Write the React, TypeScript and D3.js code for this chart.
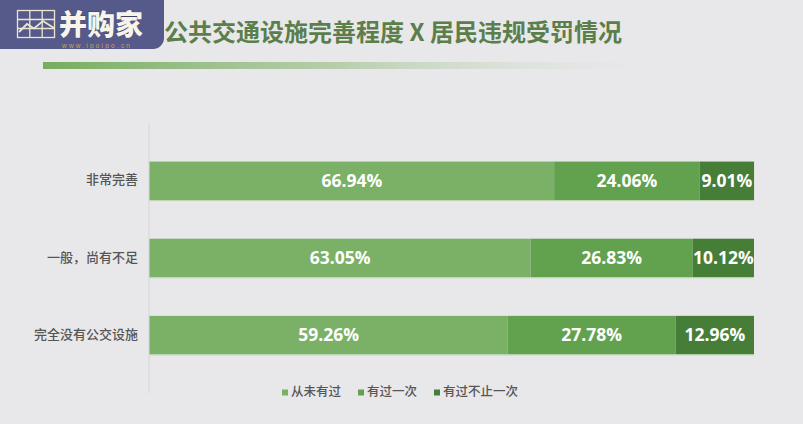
import React from 'react';
import * as d3 from 'd3';

const categories = ['非常完善', '一般，尚有不足', '完全没有公交设施'];
const seriesNames = ['从未有过', '有过一次', '有过不止一次'];
const neverValues = [66.94, 63.05, 59.26];
const onceValues = [24.06, 26.83, 27.78];
const multipleValues = [9.01, 10.12, 12.96];
const seriesColors = ['#7bb067', '#62a24e', '#477e37'];

const W = 803;
const H = 424;

export default function App() {
  const rows = categories.map((c, i) => ({
    cat: c,
    s0: neverValues[i],
    s1: onceValues[i],
    s2: multipleValues[i],
  }));
  const stack = d3.stack<any>().keys(['s0', 's1', 's2']);
  const layers = stack(rows);

  const x = d3.scaleLinear().domain([0, 100]).range([149.5, 754]);
  const y = d3.scaleBand<string>().domain(categories).range([123, 393]).padding(0.5);

  const legendX = [282, 358, 434];

  return (
    <div style={{ position: 'fixed', left: 0, top: 0, width: W, height: H }}>
      <svg width={W} height={H} style={{ display: 'block' }}>
        <defs>
          <linearGradient id="tl" x1="0" x2="1" y1="0" y2="0">
            <stop offset="0" stopColor="#76ad5e" stopOpacity={1} />
            <stop offset="0.45" stopColor="#a9c79a" stopOpacity={0.8} />
            <stop offset="1" stopColor="#e8e8ea" stopOpacity={0} />
          </linearGradient>
        </defs>
        <rect x={0} y={0} width={W} height={H} fill="#e8e8ea" />

        {/* title */}
        <text
          x={164}
          y={41}
          fontFamily="'Noto Sans CJK SC', sans-serif"
          fontWeight={700}
          fontSize={24}
          fill="#5b7e4b"
        >
          公共交通设施完善程度 X 居民违规受罚情况
        </text>
        <rect x={43} y={62} width={645} height={7} fill="url(#tl)" />

        {/* logo */}
        <g>
          <rect x={-12} y={-12} width={176} height={61} rx={11} fill="#565a8b" />
          <g stroke="#ede6cf" strokeWidth={1.3} fill="none">
            <rect x={17.5} y={10.5} width={37} height={27} />
            <line x1={29.8} y1={10.5} x2={29.8} y2={37.5} />
            <line x1={42.2} y1={10.5} x2={42.2} y2={37.5} />
            <line x1={17.5} y1={19.5} x2={54.5} y2={19.5} />
            <line x1={17.5} y1={28.5} x2={54.5} y2={28.5} />
            <polyline points="19,32 27,24 34,28.5 43,21 54,28" strokeWidth={1.8} />
          </g>
          <text
            x={59}
            y={34.5}
            fontFamily="'Noto Sans CJK SC', sans-serif"
            fontWeight={900}
            fontSize={28}
            fill="#f7f4ea"
            stroke="#3f4270"
            strokeWidth={0.8}
            paintOrder="stroke"
          >
            并购家
          </text>
          <text
            x={62}
            y={47.5}
            fontFamily="'Liberation Sans', sans-serif"
            fontSize={6.5}
            fill="#c9a35e"
            letterSpacing={2.2}
          >
            www.ipoipo.cn
          </text>
        </g>

        {/* axis line */}
        <line x1={149} y1={123} x2={149} y2={393} stroke="#d6d6d8" strokeWidth={1} />

        {/* bars */}
        {layers.map((layer, li) => (
          <g key={li}>
            {layer.map((d, i) => {
              const cat = categories[i];
              const x0 = x(d[0]);
              const x1 = x(d[1]);
              const yy = y(cat) as number;
              const v = (d.data as any)[layer.key] as number;
              return (
                <g key={i}>
                  <rect
                    x={x0}
                    y={yy}
                    width={x1 - x0}
                    height={y.bandwidth()}
                    fill={seriesColors[li]}
                  />
                  <text
                    x={(x0 + x1) / 2}
                    y={yy + y.bandwidth() / 2 + 1}
                    textAnchor="middle"
                    dominantBaseline="middle"
                    fontFamily="'Open Sans', sans-serif"
                    fontWeight={700}
                    fontSize={17.5}
                    fill="#ffffff"
                  >
                    {v.toFixed(2)}%
                  </text>
                </g>
              );
            })}
          </g>
        ))}
        {categories.map((c) => (
          <line
            key={c}
            x1={149.5}
            x2={754}
            y1={(y(c) as number) + y.bandwidth() + 0.5}
            y2={(y(c) as number) + y.bandwidth() + 0.5}
            stroke="#bcd6b0"
            strokeWidth={1}
          />
        ))}

        {/* category labels */}
        {categories.map((c) => (
          <text
            key={c}
            x={138}
            y={(y(c) as number) + y.bandwidth() / 2}
            textAnchor="end"
            dominantBaseline="middle"
            fontFamily="'Noto Sans CJK SC', sans-serif"
            fontWeight={500}
            fontSize={13}
            fill="#555555"
          >
            {c}
          </text>
        ))}

        {/* legend */}
        {seriesNames.map((s, i) => (
          <g key={s}>
            <rect x={legendX[i]} y={389.5} width={6} height={6} fill={seriesColors[i]} />
            <text
              x={legendX[i] + 9}
              y={393}
              dominantBaseline="middle"
              fontFamily="'Noto Sans CJK SC', sans-serif"
              fontWeight={500}
              fontSize={12.5}
              fill="#555555"
            >
              {s}
            </text>
          </g>
        ))}
      </svg>
    </div>
  );
}
